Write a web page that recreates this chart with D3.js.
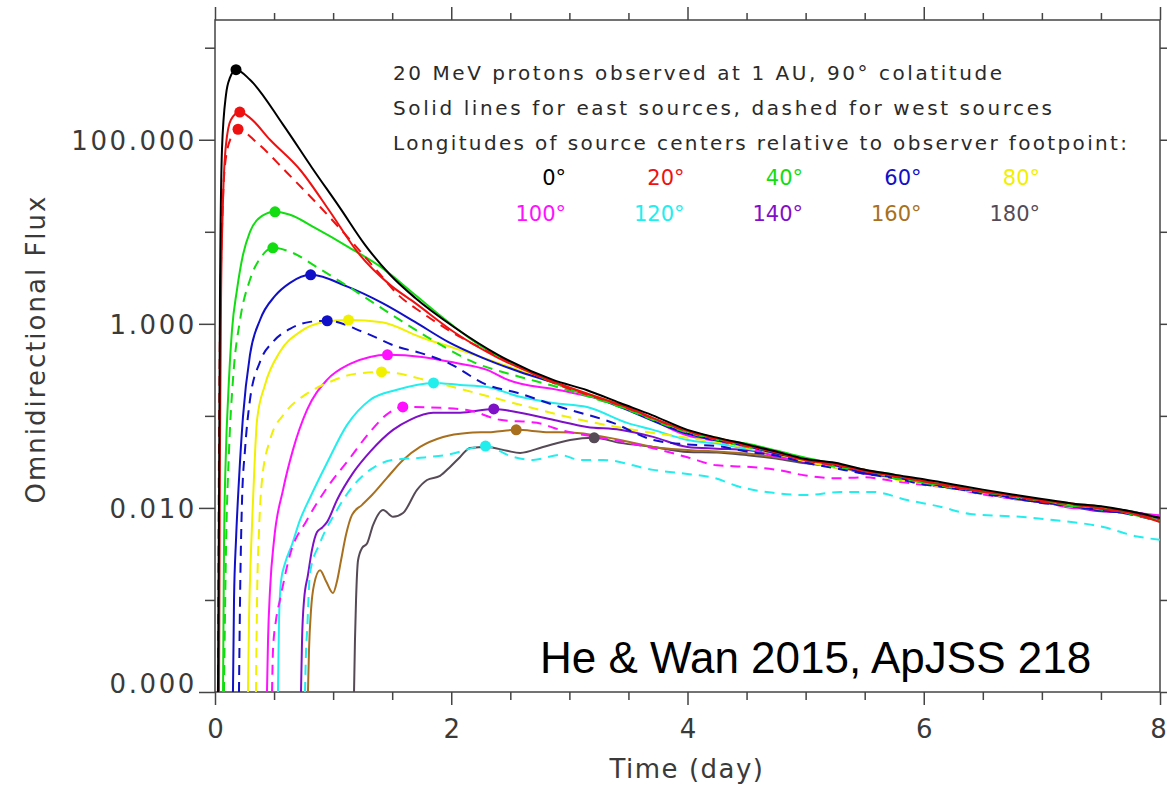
<!DOCTYPE html>
<html>
<head>
<meta charset="utf-8">
<script src="https://cdn.jsdelivr.net/npm/d3@7"></script>
<style>
body { margin: 0; background: #fff; }
svg { display: block; font-family: "DejaVu Sans", sans-serif; }
</style>
</head>
<body>
<div id="chartArea"></div>
<script>
const width = 1167;
const height = 788;

// source longitudes and the colour used for each one
const longitudes = [0, 20, 40, 60, 80, 100, 120, 140, 160, 180];
const lonColors = ["#000000", "#ee1111", "#11dd11", "#1010c8", "#f0f000", "#ff11ff", "#22eeee", "#7f10c8", "#a8701e", "#554a55"];

const xMajor = [0, 2, 4, 6, 8];
const xMinor = [0.5, 1, 1.5, 2.5, 3, 3.5, 4.5, 5, 5.5, 6.5, 7, 7.5];
const yMajor = [0.0001, 0.01, 1, 100];
const yMinor = [0.001, 0.1, 10, 1000];

const noteLines = [
    "20 MeV protons observed at 1 AU, 90° colatitude",
    "Solid lines for east sources, dashed for west sources",
    "Longitudes of source centers relative to observer footpoint:"
];

// [day, flux]; east = solid, west = dashed
const east0 = [[0.025,1e-4],[0.034,0.0122],[0.042,1.82],[0.059,77.8],[0.093,308],[0.127,472],[0.178,577],[0.296,449],[0.576,146],[0.821,49.7],[1.058,18.2],[1.27,7.22],[1.482,3.41],[1.693,1.92],[2.032,0.906],[2.396,0.46],[2.862,0.246],[3.15,0.19],[3.429,0.138],[3.7,0.102],[4.0,0.0705],
    [4.25,0.058],[4.5,0.049],[4.75,0.041],[5.0,0.034],[5.25,0.031],[5.5,0.026],[5.75,0.023],[6.0,0.0205],[6.25,0.018],[6.5,0.0158],[6.75,0.014],[7.0,0.0125],[7.25,0.0112],[7.5,0.0104],[7.75,0.0092],[8.0,0.0078]];
const east20 = [[0.034,1e-4],[0.042,0.0427],[0.051,1.82],[0.068,22.3],[0.093,88.3],[0.135,165],[0.21,200],[0.296,173],[0.466,100],[0.72,47.2],[0.974,16.5],[1.211,5.92],[1.482,2.65],[1.693,1.69],[2.032,0.80],[2.396,0.427],[2.862,0.236],[3.429,0.132],[4.0,0.069],
    [4.25,0.057],[4.5,0.048],[4.75,0.040],[5.0,0.033],[5.25,0.030],[5.5,0.025],[5.75,0.0225],[6.0,0.0195],[6.25,0.0172],[6.5,0.015],[6.75,0.0137],[7.0,0.012],[7.25,0.0112],[7.5,0.0098],[7.75,0.0088],[8.0,0.007]];
const west20 = [[0.025,1e-4],[0.034,0.0427],[0.042,0.861],[0.059,10.5],[0.085,53.5],[0.135,105],[0.195,130],[0.356,92.7],[0.61,43.8],[0.889,18.7],[1.143,8.18],[1.38,3.67],[1.55,2.07],[1.753,1.32],[1.973,0.861],[2.413,0.43],[2.862,0.23],[3.429,0.13],[4.0,0.068],
    [4.25,0.055],[4.5,0.047],[4.75,0.041],[5.0,0.033],[5.25,0.029],[5.5,0.026],[5.75,0.022],[6.0,0.0195],[6.25,0.0168],[6.5,0.0152],[6.75,0.0135],[7.0,0.0117],[7.25,0.0109],[7.5,0.0099],[7.75,0.009],[8.0,0.0075]];
const east40 = [[0.068,1e-4],[0.076,0.0035],[0.093,0.0427],[0.11,0.149],[0.144,0.861],[0.186,2.34],[0.237,5.62],[0.296,10.0],[0.398,14.9],[0.508,16.5],[0.635,15.3],[0.847,11.0],[1.126,6.87],[1.414,4.06],[1.693,2.07],[1.973,1.05],[2.261,0.562],[2.583,0.341],[2.862,0.23],[3.429,0.127],[4.0,0.068],
    [4.25,0.056],[4.5,0.05],[4.75,0.042],[5.0,0.035],[5.25,0.03],[5.5,0.0255],[5.75,0.023],[6.0,0.0188],[6.25,0.0175],[6.5,0.0148],[6.75,0.0136],[7.0,0.0122],[7.25,0.0105],[7.5,0.0102],[7.75,0.0086],[8.0,0.0072]];
const west40 = [[0.076,1e-4],[0.093,0.0035],[0.119,0.0427],[0.152,0.246],[0.212,1.10],[0.296,3.01],[0.398,5.48],[0.49,6.7],[0.635,6.07],[0.872,4.06],[1.211,2.17],[1.524,1.19],[1.837,0.67],[2.202,0.377],[2.583,0.265],[2.862,0.212],[3.429,0.125],[4.0,0.066],
    [4.25,0.055],[4.5,0.046],[4.75,0.041],[5.0,0.034],[5.25,0.028],[5.5,0.026],[5.75,0.021],[6.0,0.0192],[6.25,0.0165],[6.5,0.0154],[6.75,0.0132],[7.0,0.0119],[7.25,0.011],[7.5,0.0096],[7.75,0.0091],[8.0,0.0076]];
const east60 = [[0.152,1e-4],[0.161,0.001],[0.178,0.0045],[0.203,0.0201],[0.237,0.098],[0.296,0.46],[0.381,1.10],[0.508,2.01],[0.635,2.79],[0.81,3.41],[1.126,2.52],[1.414,1.69],[1.693,1.05],[1.973,0.637],[2.261,0.43],[2.583,0.30],[2.862,0.23],[3.429,0.125],[4.0,0.064],
    [4.25,0.054],[4.5,0.047],[4.75,0.039],[5.0,0.034],[5.25,0.029],[5.5,0.024],[5.75,0.0215],[6.0,0.019],[6.25,0.0162],[6.5,0.0151],[6.75,0.0128],[7.0,0.0115],[7.25,0.0104],[7.5,0.0094],[7.75,0.0087],[8.0,0.0077]];
const west60 = [[0.203,1e-4],[0.212,0.001],[0.229,0.0122],[0.254,0.0427],[0.296,0.149],[0.381,0.386],[0.491,0.637],[0.635,0.883],[0.804,1.05],[0.95,1.08],[1.27,0.80],[1.55,0.56],[1.736,0.484],[1.973,0.377],[2.303,0.217],[2.557,0.178],[2.921,0.125],[3.37,0.084],[3.709,0.0548],[4.0,0.049],
    [4.25,0.047],[4.5,0.041],[4.75,0.037],[5.0,0.031],[5.25,0.027],[5.5,0.0235],[5.75,0.021],[6.0,0.018],[6.25,0.0165],[6.5,0.0142],[6.75,0.0131],[7.0,0.0113],[7.25,0.0106],[7.5,0.0095],[7.75,0.0085],[8.0,0.0071]];
const east80 = [[0.279,1e-4],[0.288,0.00061],[0.305,0.0035],[0.322,0.0122],[0.356,0.0906],[0.423,0.217],[0.55,0.497],[0.72,0.818],[0.914,1.04],[1.13,1.10],[1.414,1.04],[1.736,0.72],[2.075,0.52],[2.439,0.36],[2.862,0.23],[3.429,0.132],[4.0,0.066],
    [4.25,0.058],[4.5,0.047],[4.75,0.04],[5.0,0.033],[5.25,0.0295],[5.5,0.0245],[5.75,0.0225],[6.0,0.0198],[6.25,0.0167],[6.5,0.0149],[6.75,0.0134],[7.0,0.0121],[7.25,0.0107],[7.5,0.0101],[7.75,0.0089],[8.0,0.0076]];
const west80 = [[0.347,1e-4],[0.356,0.001],[0.373,0.0058],[0.398,0.0201],[0.466,0.0548],[0.593,0.108],[0.762,0.169],[0.974,0.234],[1.185,0.286],[1.41,0.30],[1.846,0.234],[2.202,0.178],[2.583,0.132],[3.091,0.0906],[3.599,0.0687],[4.0,0.0577],
    [4.25,0.052],[4.5,0.045],[4.75,0.0385],[5.0,0.032],[5.25,0.0275],[5.5,0.0245],[5.75,0.0205],[6.0,0.0185],[6.25,0.016],[6.5,0.0147],[6.75,0.0127],[7.0,0.0116],[7.25,0.0103],[7.5,0.0097],[7.75,0.0088],[8.0,0.0079]];
const east100 = [[0.44,1e-4],[0.449,0.00037],[0.466,0.0013],[0.5,0.0045],[0.576,0.0157],[0.66,0.0427],[0.779,0.116],[0.948,0.246],[1.143,0.367],[1.312,0.437],[1.46,0.46],[1.753,0.437],[2.032,0.377],[2.303,0.316],[2.481,0.246],[2.921,0.19],[3.489,0.125],[4.0,0.061],
    [4.25,0.053],[4.5,0.046],[4.75,0.036],[5.0,0.033],[5.25,0.0285],[5.5,0.024],[5.75,0.0218],[6.0,0.0185],[6.25,0.017],[6.5,0.0146],[6.75,0.0128],[7.0,0.0118],[7.25,0.01],[7.5,0.0098],[7.75,0.009],[8.0,0.0083]];
const west100 = [[0.483,1e-4],[0.491,0.000286],[0.517,0.00061],[0.55,0.001],[0.635,0.0031],[0.779,0.0074],[0.948,0.0165],[1.143,0.0349],[1.312,0.067],[1.482,0.11],[1.59,0.125],[1.795,0.124],[2.134,0.116],[2.413,0.0906],[2.726,0.084],[2.921,0.0705],[3.37,0.0548],[3.768,0.0427],[4.0,0.0355],
    [4.25,0.029],[4.5,0.028],[4.75,0.026],[5.0,0.0225],[5.25,0.021],[5.5,0.0215],[5.75,0.0195],[6.0,0.0178],[6.25,0.0163],[6.5,0.014],[6.75,0.0127],[7.0,0.0114],[7.25,0.0105],[7.5,0.0093],[7.75,0.0087],[8.0,0.008]];
const east120 = [[0.533,1e-4],[0.542,0.00061],[0.559,0.0016],[0.593,0.0025],[0.652,0.004],[0.72,0.0074],[0.804,0.0129],[0.948,0.0308],[1.118,0.0798],[1.312,0.149],[1.541,0.192],[1.85,0.228],[2.075,0.217],[2.303,0.206],[2.583,0.161],[2.862,0.138],[3.15,0.125],[3.489,0.084],[3.709,0.0705],[4.0,0.0548],
    [4.25,0.05],[4.5,0.044],[4.75,0.039],[5.0,0.033],[5.25,0.028],[5.5,0.025],[5.75,0.0215],[6.0,0.0196],[6.25,0.0168],[6.5,0.0156],[6.75,0.0131],[7.0,0.012],[7.25,0.011],[7.5,0.0098],[7.75,0.0091],[8.0,0.0078]];
const west120 = [[0.762,1e-4],[0.771,0.00029],[0.779,0.00044],[0.804,0.00197],[0.889,0.00417],[1.033,0.0095],[1.143,0.0157],[1.312,0.0259],[1.507,0.0332],[1.736,0.035],[1.964,0.0377],[2.29,0.047],[2.523,0.0358],[2.693,0.0332],[2.921,0.0377],[3.091,0.0332],[3.285,0.0332],[3.709,0.0259],[4.0,0.0234],
    [4.217,0.0213],[4.445,0.0169],[4.725,0.0146],[5.013,0.0138],[5.292,0.0149],[5.572,0.0149],[5.859,0.0122],[6.139,0.0103],[6.393,0.0086],[6.816,0.008],[7.096,0.0074],[7.519,0.0062],[7.807,0.0049],[8.0,0.0045]];
const east140 = [[0.728,1e-4],[0.737,0.00037],[0.754,0.001],[0.787,0.00187],[0.821,0.0035],[0.864,0.00548],[0.906,0.0061],[0.948,0.007],[1.033,0.0122],[1.169,0.024],[1.312,0.0406],[1.507,0.0705],[1.651,0.0906],[1.846,0.108],[2.075,0.108],[2.36,0.119],[2.583,0.108],[2.862,0.0906],[3.15,0.0759],[3.429,0.0705],[3.709,0.0591],[4.0,0.046],
    [4.25,0.044],[4.5,0.0425],[4.75,0.038],[5.0,0.031],[5.25,0.029],[5.5,0.0235],[5.75,0.0222],[6.0,0.0183],[6.25,0.0165],[6.5,0.0144],[6.75,0.0126],[7.0,0.0115],[7.25,0.0103],[7.5,0.0092],[7.75,0.009],[8.0,0.0079]];
const east160 = [[0.787,1e-4],[0.796,0.00029],[0.813,0.00078],[0.838,0.00146],[0.889,0.0021],[0.94,0.0016],[0.999,0.00119],[1.033,0.0016],[1.067,0.0027],[1.109,0.0051],[1.16,0.0084],[1.245,0.0108],[1.329,0.0138],[1.456,0.0212],[1.592,0.0332],[1.736,0.046],[1.931,0.059],[2.134,0.0653],[2.354,0.067],[2.55,0.0705],[2.777,0.067],[3.065,0.0653],[3.429,0.0548],[3.709,0.046],[4.0,0.0427],
    [4.25,0.041],[4.5,0.039],[4.75,0.0355],[5.0,0.032],[5.25,0.0275],[5.5,0.0252],[5.75,0.0212],[6.0,0.0194],[6.25,0.0172],[6.5,0.015],[6.75,0.0135],[7.0,0.0119],[7.25,0.0111],[7.5,0.0103],[7.75,0.0087],[8.0,0.0075]];
const east180 = [[1.177,1e-4],[1.185,0.00037],[1.194,0.001],[1.211,0.0027],[1.245,0.00367],[1.287,0.0041],[1.338,0.0065],[1.423,0.0095],[1.507,0.008],[1.592,0.0088],[1.71,0.0157],[1.795,0.0201],[1.905,0.0223],[1.99,0.0279],[2.075,0.0358],[2.159,0.0449],[2.303,0.046],[2.472,0.0417],[2.583,0.0396],[2.777,0.046],[3.006,0.0548],[3.21,0.0577],[3.429,0.0509],[3.709,0.046],[4.0,0.0406],
    [4.25,0.04],[4.5,0.0375],[4.75,0.0345],[5.0,0.0305],[5.25,0.028],[5.5,0.0248],[5.75,0.0218],[6.0,0.019],[6.25,0.017],[6.5,0.0152],[6.75,0.0129],[7.0,0.0123],[7.25,0.0108],[7.5,0.01],[7.75,0.0092],[8.0,0.0077]];

// drawing order: back to front, black last
const series = [
    { lon: 180, dashed: false, data: east180 },
    { lon: 160, dashed: false, data: east160 },
    { lon: 140, dashed: false, data: east140 },
    { lon: 120, dashed: true, data: west120 },
    { lon: 120, dashed: false, data: east120 },
    { lon: 100, dashed: true, data: west100 },
    { lon: 100, dashed: false, data: east100 },
    { lon: 80, dashed: true, data: west80 },
    { lon: 80, dashed: false, data: east80 },
    { lon: 60, dashed: true, data: west60 },
    { lon: 60, dashed: false, data: east60 },
    { lon: 40, dashed: true, data: west40 },
    { lon: 40, dashed: false, data: east40 },
    { lon: 20, dashed: true, data: west20 },
    { lon: 20, dashed: false, data: east20 },
    { lon: 0, dashed: false, data: east0 }
];

const colorOf = lon => lonColors[longitudes.indexOf(lon)];

const svg = d3.select("#chartArea").append("svg")
    .attr("width", width)
    .attr("height", height);

const x = d3.scaleLinear().domain([0, 8]).range([215, 1160]);
const y = d3.scaleLog().domain([0.0001, 2000]).range([692, 20]);

svg.append("clipPath").attr("id", "plotClip")
    .append("rect")
    .attr("x", 215).attr("y", 20)
    .attr("width", 945).attr("height", 672);

// axes
const axisColor = "#444";
function addAxis(axis, tx, ty, values, size, fmt) {
    const g = svg.append("g")
        .attr("transform", `translate(${tx},${ty})`)
        .call(axis.tickValues(values).tickSize(size).tickSizeOuter(0).tickFormat(fmt || ""));
    g.select(".domain").remove();
    g.selectAll("line").attr("stroke", axisColor).attr("stroke-width", 1.5);
    return g;
}

const xb = addAxis(d3.axisBottom(x), 0, 692, xMajor, 13, d3.format("d"));
addAxis(d3.axisBottom(x), 0, 692, xMinor, 8);
addAxis(d3.axisTop(x), 0, 20, xMajor, 13);
addAxis(d3.axisTop(x), 0, 20, xMinor, 7);
const yl = addAxis(d3.axisLeft(y), 215, 0, yMajor, 16, d3.format(".3f"));
addAxis(d3.axisLeft(y), 215, 0, yMinor, 10);
addAxis(d3.axisRight(y), 1160, 0, yMajor, 16);
addAxis(d3.axisRight(y), 1160, 0, yMinor, 10);

xb.selectAll("text")
    .attr("y", 46).attr("dy", null)
    .attr("x", d => d === 8 ? -2 : 0)
    .attr("font-size", 26)
    .attr("fill", "#3a3a3a")
    .attr("font-family", "DejaVu Sans");

yl.selectAll("text")
    .attr("x", -18)
    .attr("font-size", 26)
    .attr("letter-spacing", 2.6)
    .attr("fill", "#3a3a3a")
    .attr("font-family", "DejaVu Sans")
    .attr("dy", d => d === 0.0001 ? "0.0em" : "0.36em");

svg.append("rect")
    .attr("x", 215).attr("y", 20)
    .attr("width", 945).attr("height", 672)
    .attr("fill", "none")
    .attr("stroke", axisColor)
    .attr("stroke-width", 1.5);

// curves
const line = d3.line()
    .x(d => x(d[0]))
    .y(d => y(d[1]))
    .curve(d3.curveMonotoneX);

const curves = svg.append("g").attr("clip-path", "url(#plotClip)");
curves.selectAll("path")
    .data(series)
    .enter().append("path")
    .attr("d", d => line(d.data))
    .attr("fill", "none")
    .attr("stroke", d => colorOf(d.lon))
    .attr("stroke-width", 2)
    .attr("stroke-linejoin", "round")
    .attr("stroke-dasharray", d => d.dashed ? "10,7" : null);

// peak markers
svg.append("g").selectAll("circle")
    .data(series)
    .enter().append("circle")
    .attr("cx", d => x(d3.greatest(d.data, p => p[1])[0]))
    .attr("cy", d => y(d3.greatest(d.data, p => p[1])[1]))
    .attr("r", 5.5)
    .attr("fill", d => colorOf(d.lon));

// notes and longitude legend
const noteWidths = [609, 659, 734];
svg.append("g").selectAll("text")
    .data(noteLines)
    .enter().append("text")
    .attr("x", 393)
    .attr("y", (d, i) => 80 + i * 35)
    .attr("font-size", 20)
    .attr("fill", "#2a2a2a")
    .attr("textLength", (d, i) => noteWidths[i])
    .attr("lengthAdjust", "spacing")
    .text(d => d);

svg.append("g").selectAll("text")
    .data(longitudes)
    .enter().append("text")
    .attr("x", (d, i) => 566 + (i % 5) * 118.5)
    .attr("y", (d, i) => i < 5 ? 185 : 221)
    .attr("text-anchor", "end")
    .attr("font-size", 21)
    .attr("fill", (d, i) => lonColors[i])
    .text(d => d + "°");

// axis titles
svg.append("text")
    .attr("x", 687).attr("y", 778)
    .attr("text-anchor", "middle")
    .attr("font-size", 26)
    .attr("letter-spacing", 1.5)
    .attr("fill", "#3a3a3a")
    .text("Time (day)");

svg.append("text")
    .attr("transform", "translate(45,349) rotate(-90)")
    .attr("text-anchor", "middle")
    .attr("font-size", 26)
    .attr("letter-spacing", 2)
    .attr("fill", "#3a3a3a")
    .text("Omnidirectional Flux");

svg.append("text")
    .attr("x", 540).attr("y", 673)
    .attr("font-family", "Liberation Sans, Arial, sans-serif")
    .attr("font-size", 44)
    .attr("fill", "#000")
    .text("He & Wan 2015, ApJSS 218");
</script>
</body>
</html>
